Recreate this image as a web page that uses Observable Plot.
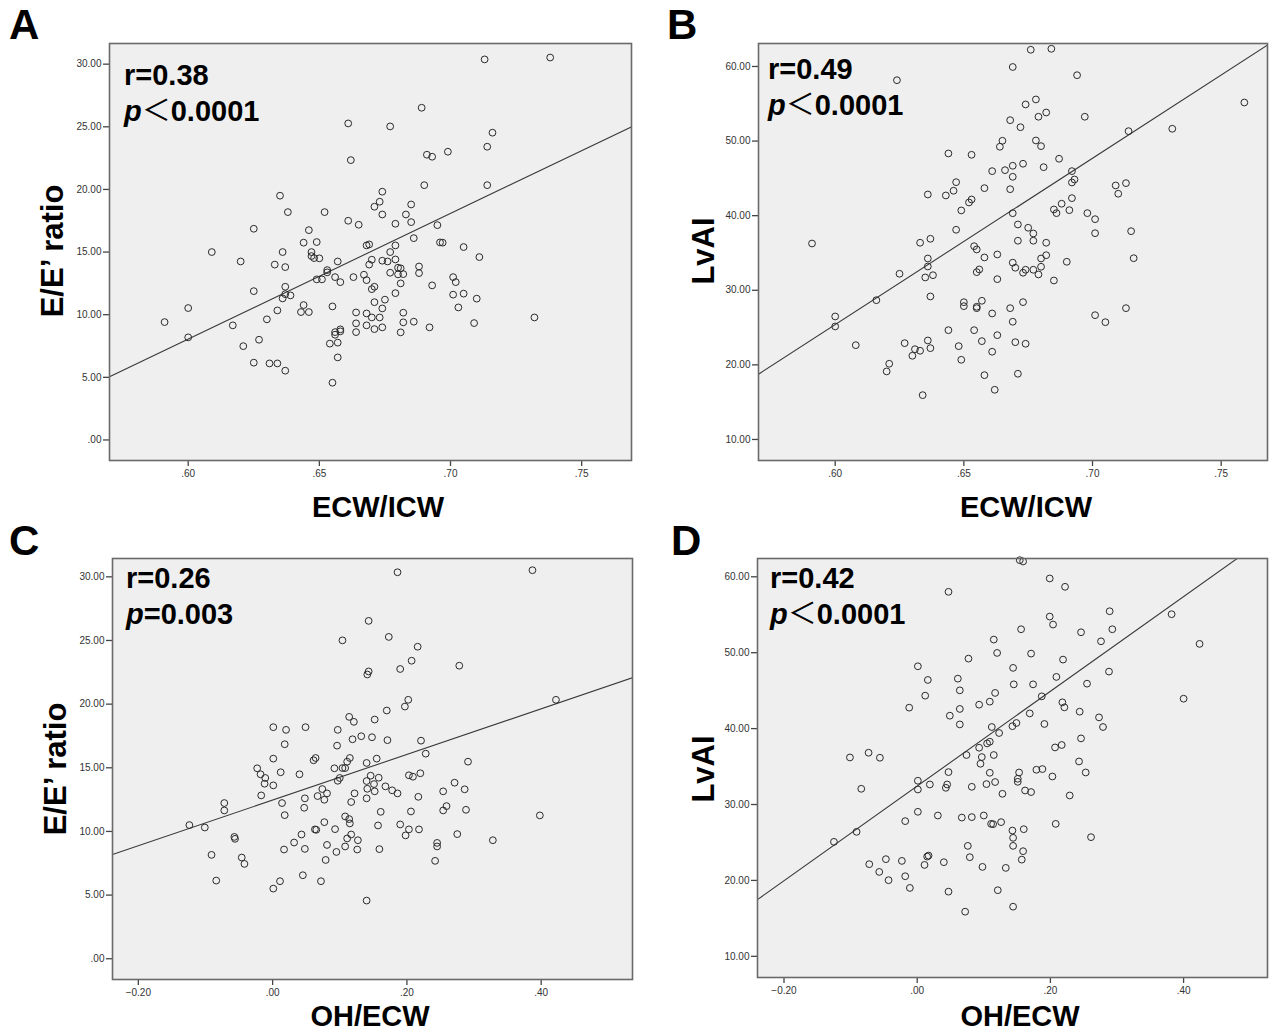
<!DOCTYPE html>
<html>
<head>
<meta charset="utf-8">
<script src="https://cdn.jsdelivr.net/npm/d3@7"></script>
<script src="https://cdn.jsdelivr.net/npm/@observablehq/plot@0.6"></script>
<style>
  html, body { margin: 0; padding: 0; background: #fff; }
  #wrap { position: relative; width: 1281px; height: 1033px; overflow: hidden; font-family: "Liberation Sans", Arial, sans-serif; }
  #wrap svg.panel { position: absolute; }
  #overlay { position: absolute; left: 0; top: 0; pointer-events: none; }
</style>
</head>
<body>
<div id="wrap"></div>
<script>
// ---------- Panel A: ECW/ICW vs E/E' ratio ----------
const aX = [0.661,0.662,0.635,0.638,0.652,0.625,0.661,0.665,0.646,0.644,
  0.649,0.609,0.636,0.647,0.647,0.648,0.650,0.620,0.633,0.637,
  0.657,0.653,0.653,0.649,0.651,0.656,0.658,0.663,0.667,0.668,
  0.668,0.669,0.669,0.625,0.637,0.637,0.639,0.636,0.655,0.600,
  0.644,0.643,0.646,0.634,0.664,0.668,0.591,0.630,0.617,0.664,
  0.668,0.600,0.627,0.621,0.664,0.656,0.656,0.658,0.658,0.654,
  0.657,0.657,0.625,0.631,0.634,0.637,0.655,0.713,0.738,0.689,
  0.677,0.716,0.714,0.691,0.693,0.699,0.690,0.714,0.674,0.673,
  0.671,0.674,0.685,0.683,0.679,0.685,0.695,0.679,0.686,0.696,
  0.697,0.705,0.711,0.677,0.670,0.674,0.676,0.679,0.680,0.681,
  0.677,0.680,0.682,0.688,0.688,0.681,0.701,0.702,0.693,0.671,
  0.670,0.679,0.701,0.705,0.710,0.671,0.675,0.674,0.703,0.682,
  0.670,0.673,0.682,0.686,0.709,0.732,0.671,0.674,0.681,0.692];
const aY = [25.27,22.34,19.50,18.19,18.19,16.86,17.50,17.18,16.75,15.75,
  15.80,15.00,15.00,15.00,14.68,14.52,14.50,14.25,14.00,13.80,
  14.25,13.56,13.38,12.82,12.82,13.00,12.60,13.00,13.19,12.76,
  15.53,15.61,14.00,11.88,12.23,11.64,11.54,11.30,10.66,10.53,
  10.77,10.21,10.21,10.34,10.18,10.10,9.41,9.63,9.15,9.31,
  9.15,8.19,8.00,7.49,8.61,8.61,8.40,8.67,8.83,7.69,
  7.77,6.59,6.17,6.11,6.11,5.53,4.57,30.38,30.53,26.52,
  25.03,24.53,23.41,22.77,22.61,23.01,20.34,20.34,19.82,19.02,
  18.62,18.00,18.80,18.00,17.26,17.39,17.15,15.53,16.11,15.77,
  15.75,15.40,14.60,15.00,14.39,14.31,14.25,14.41,13.75,13.70,
  13.35,13.22,13.24,13.85,13.32,12.50,13.00,12.60,12.34,12.23,
  12.04,11.72,11.60,11.68,11.28,11.00,11.20,10.50,10.58,10.16,
  9.78,9.78,9.39,9.44,9.33,9.78,8.85,8.99,8.59,8.99];
const aFitX = [0.570, 0.769];
const aFitY = [5.05, 25.00];

// ---------- Panel B: ECW/ICW vs LvAI ----------
const bX = [0.669,0.624,0.668,0.665,0.664,0.644,0.653,0.661,0.666,0.669,
  0.669,0.647,0.646,0.643,0.636,0.658,0.668,0.653,0.652,0.649,
  0.669,0.647,0.591,0.633,0.637,0.654,0.655,0.663,0.658,0.636,
  0.636,0.625,0.635,0.638,0.656,0.655,0.663,0.669,0.616,0.637,
  0.650,0.650,0.655,0.655,0.657,0.661,0.668,0.600,0.600,0.669,
  0.644,0.654,0.663,0.670,0.674,0.608,0.627,0.636,0.637,0.631,
  0.633,0.630,0.648,0.657,0.661,0.649,0.621,0.620,0.658,0.671,
  0.662,0.634,0.676,0.684,0.694,0.674,0.678,0.679,0.682,0.697,
  0.672,0.678,0.680,0.687,0.673,0.681,0.692,0.693,0.692,0.709,
  0.713,0.710,0.692,0.688,0.685,0.686,0.691,0.698,0.701,0.671,
  0.675,0.677,0.671,0.677,0.682,0.701,0.715,0.680,0.682,0.670,
  0.673,0.674,0.677,0.680,0.679,0.690,0.716,0.685,0.673,0.701,
  0.705,0.713,0.714,0.731,0.759];
const bY = [59.93,58.16,52.80,50.04,49.24,48.34,48.16,45.97,46.10,46.69,
  45.21,44.49,43.34,42.71,42.84,43.69,43.55,42.17,41.77,40.70,
  40.33,38.11,36.27,36.37,36.90,35.91,35.47,34.80,34.40,34.26,
  33.19,32.21,31.72,32.02,32.79,32.43,31.49,33.70,28.67,29.17,
  28.40,27.87,27.79,27.60,28.59,26.89,27.60,26.49,25.15,25.78,
  24.65,24.65,23.98,23.04,22.83,22.64,22.91,23.27,22.24,22.10,
  21.89,21.22,22.51,23.18,21.76,20.68,20.15,19.12,18.62,18.81,
  16.66,15.94,62.24,62.37,58.83,54.91,55.58,53.26,53.83,53.26,
  51.86,50.08,49.32,47.63,46.96,46.50,45.97,44.85,44.45,44.05,
  44.36,42.94,42.35,41.60,40.83,40.34,40.74,40.34,39.53,38.82,
  38.38,37.61,36.64,36.64,36.37,37.65,37.92,34.26,34.70,33.02,
  32.35,32.75,32.75,33.15,32.12,33.82,34.30,31.31,28.41,26.66,
  25.72,27.60,51.33,51.65,55.17];
const bFitX = [0.5702, 0.768];
const bFitY = [18.75, 62.86];

// ---------- Panel C: OH/ECW vs E/E' ratio ----------
const cX = [0.143,0.104,0.141,0.143,0.114,0.121,0.001,0.020,0.049,0.097,
  0.132,0.119,0.148,0.018,0.096,0.001,0.061,0.064,0.115,0.111,
  0.140,-0.023,-0.018,-0.011,-0.012,0.001,0.012,0.040,0.092,0.104,
  0.108,0.100,0.097,0.140,0.141,0.146,0.074,0.081,0.067,0.077,
  0.048,0.122,0.117,0.140,-0.017,0.014,0.047,0.018,-0.072,-0.072,
  -0.124,-0.101,0.108,0.114,0.115,0.077,0.063,0.065,0.093,0.043,
  -0.057,-0.056,0.117,0.111,0.127,0.032,0.081,0.108,0.126,0.017,
  0.048,0.095,-0.091,-0.046,-0.042,0.079,0.045,0.011,0.072,0.001,
  -0.084,0.140,0.186,0.387,0.173,0.216,0.207,0.190,0.278,0.202,
  0.197,0.170,0.152,0.422,0.171,0.221,0.228,0.155,0.291,0.158,
  0.203,0.209,0.220,0.151,0.152,0.168,0.178,0.186,0.217,0.254,
  0.271,0.286,0.161,0.206,0.254,0.259,0.288,0.398,0.157,0.190,
  0.203,0.198,0.218,0.275,0.245,0.245,0.328,0.159,0.242];
const cY = [26.54,25.01,22.33,22.57,19.00,18.61,18.19,17.98,18.19,17.98,
  17.48,17.24,17.40,16.85,16.74,15.72,15.59,15.77,15.77,15.48,
  15.38,14.96,14.49,14.20,13.75,13.62,14.65,14.49,14.96,14.98,
  14.98,14.20,13.98,13.96,13.35,14.38,13.33,12.99,12.78,12.49,
  12.60,12.99,12.31,12.60,12.83,12.23,11.86,11.28,12.23,11.65,
  10.50,10.31,11.18,10.97,10.63,10.73,10.16,10.13,10.18,9.76,
  9.57,9.42,9.76,9.45,9.31,9.13,8.94,8.82,8.58,8.58,
  8.63,8.39,8.16,7.95,7.45,7.76,6.56,6.09,6.09,5.51,
  6.14,4.57,30.36,30.52,25.28,24.51,23.41,22.76,23.02,20.34,
  19.81,19.50,18.79,20.34,17.17,17.13,16.11,15.72,15.48,14.22,
  14.41,14.30,14.57,13.72,13.15,13.54,13.23,12.99,12.72,13.15,
  13.83,13.31,11.54,11.57,11.65,11.99,11.70,11.26,10.47,10.55,
  10.16,9.69,10.16,9.79,9.10,8.82,9.31,8.61,7.69];
const cFitX = [-0.2385, 0.536];
const cFitY = [8.19, 22.07];

// ---------- Panel D: OH/ECW vs LvAI ----------
const dX = [0.047,0.115,0.120,0.077,0.001,0.016,0.061,0.064,0.012,0.117,
  0.109,0.093,-0.012,0.064,0.049,0.064,0.112,0.123,0.144,0.145,
  0.143,0.105,0.109,0.093,0.097,0.095,0.074,0.115,-0.101,-0.073,
  -0.056,0.047,0.109,0.001,0.001,0.019,0.045,0.043,0.082,0.104,
  0.117,0.128,-0.084,0.001,0.031,0.067,0.082,0.100,0.111,0.114,
  0.126,-0.018,-0.091,-0.125,0.143,0.144,0.144,0.076,0.079,0.098,
  0.133,-0.072,-0.047,-0.023,-0.057,-0.043,-0.018,-0.011,0.015,0.017,
  0.011,0.040,0.047,0.121,0.144,0.072,0.154,0.159,0.199,0.222,
  0.199,0.204,0.289,0.293,0.156,0.246,0.276,0.171,0.219,0.174,
  0.209,0.255,0.288,0.187,0.218,0.221,0.244,0.273,0.279,0.169,
  0.149,0.191,0.246,0.207,0.217,0.243,0.253,0.179,0.188,0.153,
  0.151,0.151,0.203,0.162,0.171,0.229,0.208,0.160,0.261,0.159,
  0.157,0.382,0.424,0.400];
const dY = [58.02,51.73,49.97,49.22,48.21,46.41,46.58,45.04,44.34,44.70,
  43.55,43.15,42.76,42.59,41.70,40.55,40.21,39.42,48.00,45.83,
  40.32,38.05,38.27,37.48,36.25,35.37,36.52,36.52,36.20,36.82,
  36.16,34.27,34.18,33.13,31.98,32.64,32.64,32.20,32.33,32.69,
  32.96,31.41,32.07,29.04,28.55,28.28,28.34,28.55,27.45,27.41,
  27.68,27.81,26.40,25.08,26.57,25.61,24.55,24.55,23.06,21.78,
  21.65,22.14,22.80,22.57,21.12,20.03,20.55,19.01,23.14,23.27,
  22.04,22.40,18.52,18.71,16.54,15.88,62.19,62.02,59.78,58.68,
  54.76,53.71,55.46,53.09,53.09,52.69,51.50,49.88,49.09,45.83,
  46.81,45.92,47.51,44.25,43.46,42.80,42.23,41.48,40.21,42.00,
  40.74,40.61,38.71,37.52,37.84,35.67,34.22,34.58,34.67,34.22,
  33.39,32.99,33.69,31.85,31.64,31.19,27.45,26.75,25.70,23.85,
  22.74,55.07,51.16,43.94];
const dFitX = [-0.2398, 0.526];
const dFitY = [17.47, 65.25];

// ---------- Axes, ticks and labels ----------
const ratioTicksX = [0.60, 0.65, 0.70, 0.75];
const ohTicksX = [-0.20, 0.00, 0.20, 0.40];
const eeTicksY = [0, 5, 10, 15, 20, 25, 30];
const lvaiTicksY = [10, 20, 30, 40, 50, 60];
const panelLetters = ["A", "B", "C", "D"];
const xTitles = ["ECW/ICW", "ECW/ICW", "OH/ECW", "OH/ECW"];
const yTitles = ["E/E\u2019 ratio", "LvAI", "E/E\u2019 ratio", "LvAI"];
const rTexts = ["r=0.38", "r=0.49", "r=0.26", "r=0.42"];
const pOps = ["\uFF1C", "\uFF1C", "=", "\uFF1C"];
const pVals = ["0.0001", "0.0001", "0.003", "0.0001"];

const fmt = d => d3.format(".2f")(d).replace(/^(-?)0\./, "$1.");
const wrap = document.getElementById("wrap");

function makePanel(o) {
  const data = o.xs.map((x, i) => ({x, y: o.ys[i]}));
  const fit = o.fx.map((x, i) => ({x, y: o.fy[i]}));
  const svg = Plot.plot({
    width: o.width, height: o.height,
    marginLeft: o.ml, marginRight: o.mr, marginTop: o.mt, marginBottom: o.mb,
    style: {fontFamily: "'Liberation Sans', Arial, sans-serif", fontSize: "10px", color: "#333", background: "transparent", overflow: "visible"},
    x: {domain: o.xDomain},
    y: {domain: o.yDomain},
    marks: [
      Plot.frame({fill: "#efefef", stroke: null}),
      Plot.axisX({ticks: o.xTicks, tickFormat: fmt, tickSize: 6, tickPadding: 3, label: null, stroke: "#444", strokeWidth: 1.3}),
      Plot.axisY({ticks: o.yTicks, tickFormat: fmt, tickSize: 6, tickPadding: 2, label: null, stroke: "#444", strokeWidth: 1.3}),
      Plot.line(fit, {x: "x", y: "y", stroke: "#3a3a3a", strokeWidth: 1.1, clip: true}),
      Plot.dot(data, {x: "x", y: "y", r: 3.4, stroke: "#2a2a2a", strokeWidth: 1, fill: "none"}),
      Plot.frame({stroke: "#6a6a6a", strokeWidth: 1.6})
    ]
  });
  svg.classList.add("panel");
  svg.style.left = o.left + "px";
  svg.style.top = o.top + "px";
  wrap.appendChild(svg);
}

makePanel({xs: aX, ys: aY, fx: aFitX, fy: aFitY, xDomain: [0.570, 0.769], yDomain: [-1.64, 31.65], xTicks: ratioTicksX, yTicks: eeTicksY,
  left: 0, top: 0, width: 640, height: 520, ml: 109, mr: 9, mt: 43, mb: 60});
makePanel({xs: bX, ys: bY, fx: bFitX, fy: bFitY, xDomain: [0.5702, 0.768], yDomain: [7.18, 63.08], xTicks: ratioTicksX, yTicks: lvaiTicksY,
  left: 650, top: 0, width: 631, height: 520, ml: 108, mr: 14, mt: 43, mb: 60});
makePanel({xs: cX, ys: cY, fx: cFitX, fy: cFitY, xDomain: [-0.2385, 0.536], yDomain: [-1.63, 31.44], xTicks: ohTicksX, yTicks: eeTicksY,
  left: 0, top: 520, width: 640, height: 513, ml: 112, mr: 8, mt: 38, mb: 54});
makePanel({xs: dX, ys: dY, fx: dFitX, fy: dFitY, xDomain: [-0.2398, 0.526], yDomain: [7.21, 62.41], xTicks: ohTicksX, yTicks: lvaiTicksY,
  left: 650, top: 520, width: 631, height: 513, ml: 107, mr: 14, mt: 38, mb: 56});

// ---------- Text overlay ----------
const ns = "http://www.w3.org/2000/svg";
const ov = document.createElementNS(ns, "svg");
ov.setAttribute("id", "overlay");
ov.setAttribute("width", 1281);
ov.setAttribute("height", 1033);
wrap.appendChild(ov);
function txt(parent, x, y, str, attrs) {
  const t = document.createElementNS(ns, "text");
  t.setAttribute("x", x); t.setAttribute("y", y);
  for (const k in attrs) t.setAttribute(k, attrs[k]);
  if (str != null) t.textContent = str;
  parent.appendChild(t);
  return t;
}
const base = {"font-family": "'Liberation Sans', Arial, sans-serif", "font-weight": "bold", fill: "#000"};
const letterPos = [[9, 39], [667, 39], [9, 555], [671, 555]];
const statPos = [[124, 85, 121], [768, 79, 115], [126, 588, 624], [770, 588, 624]];
const xTitlePos = [[378, 517], [1026, 517], [370, 1026], [1020, 1026]];
const yTitlePos = [[63, 251], [714, 251], [66, 769], [714, 769]];

panelLetters.forEach((L, i) => {
  txt(ov, letterPos[i][0], letterPos[i][1], L, {...base, "font-size": 42});
  txt(ov, statPos[i][0], statPos[i][1], rTexts[i], {...base, "font-size": 29});
  const p = txt(ov, statPos[i][0], statPos[i][2], null, {...base, "font-size": 29});
  const s1 = document.createElementNS(ns, "tspan"); s1.setAttribute("font-style", "italic"); s1.textContent = "p"; p.appendChild(s1);
  const s2 = document.createElementNS(ns, "tspan");
  if (pOps[i] !== "=") { s2.setAttribute("font-weight", "normal"); s2.setAttribute("font-family", "'Noto Sans CJK SC', sans-serif"); }
  s2.textContent = pOps[i]; p.appendChild(s2);
  const s3 = document.createElementNS(ns, "tspan"); s3.textContent = pVals[i]; p.appendChild(s3);
  txt(ov, xTitlePos[i][0], xTitlePos[i][1], xTitles[i], {...base, "font-size": 29, "text-anchor": "middle"});
  txt(ov, 0, 0, yTitles[i], {...base, "font-size": 31, "text-anchor": "middle",
    transform: `translate(${yTitlePos[i][0]},${yTitlePos[i][1]}) rotate(-90)`});
});
</script>
</body>
</html>
